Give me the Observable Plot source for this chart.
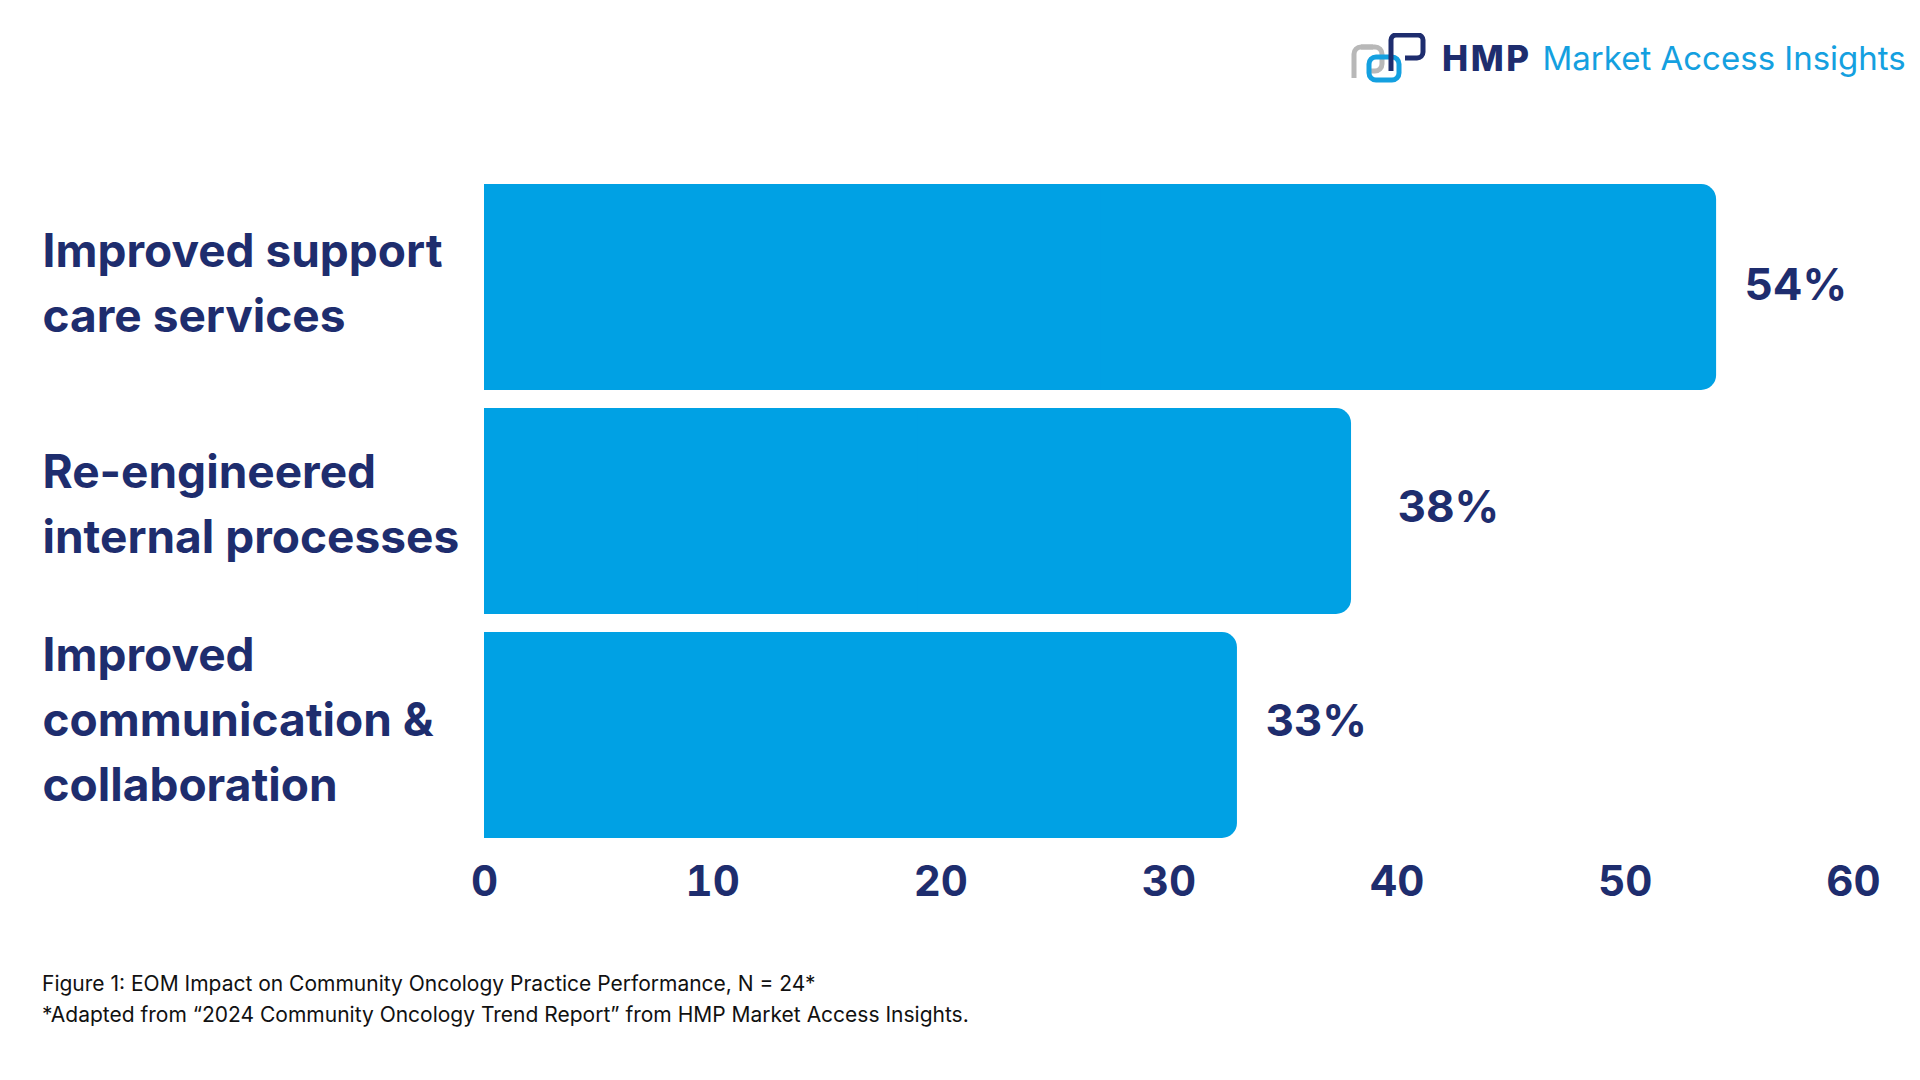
<!DOCTYPE html>
<html><head><meta charset="utf-8">
<script src="https://cdn.jsdelivr.net/npm/d3@7"></script>
<script src="https://cdn.jsdelivr.net/npm/@observablehq/plot@0.6"></script>
<style>
html,body{margin:0;padding:0;background:#fff;}
body{width:1920px;height:1080px;overflow:hidden;position:relative;font-family:Inter, "Open Sans", sans-serif;}
#chart{position:absolute;left:0;top:0;}
#caption{position:absolute;left:42px;top:968px;font-size:21px;line-height:31px;color:#111;}
#logo{position:absolute;left:1351px;top:33px;height:50px;display:flex;align-items:center;}
#logo .hmp{font-weight:800;font-size:35px;color:#1E2D6E;margin-left:15px;letter-spacing:2.5px;}
#logo .mai{font-weight:400;font-size:33px;color:#14A0E0;margin-left:11px;}
</style></head><body>
<div id="logo">
<svg width="76" height="50" viewBox="0 0 76 50">
<path d="M22 14 h-12 a7 7 0 0 0 -7 7 v10 M3 31 v14" fill="none" stroke="#B8B8B8" stroke-width="5"/>
<path d="M10 14 h14 a7 7 0 0 1 7 7 v10 a7 7 0 0 1 -7 7 h-8" fill="none" stroke="#B8B8B8" stroke-width="5"/>
<rect x="18" y="24" width="30" height="23" rx="7" fill="none" stroke="#14A0E0" stroke-width="5"/>
<path d="M40 38 v-31 a5 5 0 0 1 5 -5 h22 a5 5 0 0 1 5 5 v12 a6 6 0 0 1 -6 6 h-12" fill="none" stroke="#1E2D6E" stroke-width="5"/>
</svg>
<span class="hmp">HMP</span><span class="mai">Market Access Insights</span>
</div>
<div id="chart"></div>
<div id="caption">Figure 1: EOM Impact on Community Oncology Practice Performance, N = 24*<br>*Adapted from “2024 Community Oncology Trend Report” from HMP Market Access Insights.</div>
<script>
const categories = ["Improved support care services", "Re-engineered internal processes", "Improved communication & collaboration"];
const categoryLabels = ["Improved support\ncare services", "Re-engineered\ninternal processes", "Improved\ncommunication &\ncollaboration"];
const values = [54, 38, 33];
const valueLabels = ["54%", "38%", "33%"];
const xTicks = [0, 10, 20, 30, 40, 50, 60];

const data = categories.map((c, i) => ({category: c, label: categoryLabels[i], value: values[i], valueLabel: valueLabels[i]}));
const navy = "#1E2D6E", blue = "#00A1E4";

// per-row text nudges (styling, matched to the reference layout)
const labelNudge = [{dy: -9}, {dy: -12}, {dy: -20}];
const valueNudge = [{dx: 28, dy: -2}, {dx: 46, dy: -4}, {dx: 28, dy: -14}];

const chart = Plot.plot({
  width: 1920, height: 920,
  marginLeft: 484, marginRight: 67, marginTop: 174, marginBottom: 72,
  style: {fontFamily: "Inter, 'Open Sans', sans-serif", background: "transparent", color: navy},
  x: {domain: [0, 60]},
  y: {domain: categories, paddingInner: 0.08, paddingOuter: 0.04, axis: null},
  marks: [
    Plot.barX(data, {x: "value", y: "category", fill: blue, rx: 15}),
    Plot.barX(data, {x1: 0, x2: d => d.value / 2, y: "category", fill: blue}),
    Plot.axisX({ticks: xTicks, tickSize: 0, tickPadding: 18, fontSize: 42, fontWeight: 700, color: navy, label: null}),
    ...categories.map((c, i) => Plot.text(data, {
      filter: d => d.category === c, x: 0, y: "category", text: "label",
      textAnchor: "start", dx: -442, dy: labelNudge[i].dy,
      fontSize: 46, fontWeight: 700, fill: navy, lineHeight: 1.41
    })),
    ...categories.map((c, i) => Plot.text(data, {
      filter: d => d.category === c, x: "value", y: "category", text: "valueLabel",
      textAnchor: "start", dx: valueNudge[i].dx, dy: valueNudge[i].dy,
      fontSize: 44, fontWeight: 700, fill: navy
    }))
  ]
});
document.getElementById("chart").appendChild(chart);
</script>
</body></html>
